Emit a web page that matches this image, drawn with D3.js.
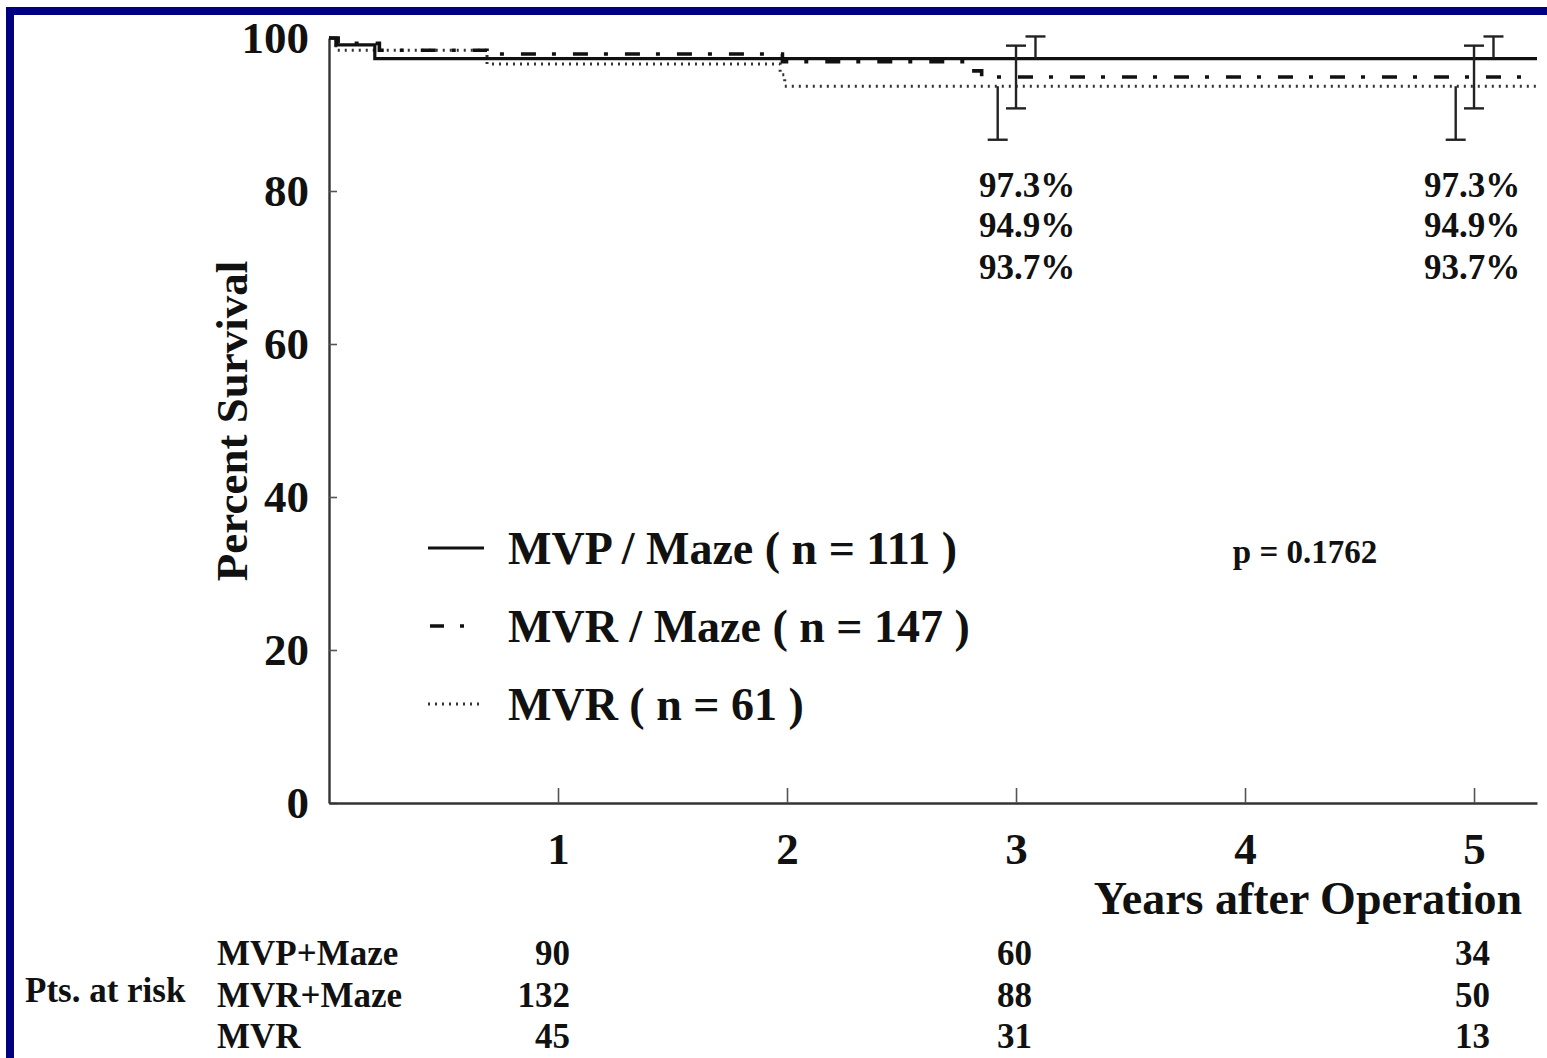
<!DOCTYPE html>
<html>
<head>
<meta charset="utf-8">
<script src="https://cdn.jsdelivr.net/npm/d3@7"></script>
<style>
  html, body { margin: 0; padding: 0; background: #fff; }
  svg { display: block; }
  text { font-family: 'Liberation Serif', 'Times New Roman', serif; font-weight: bold; fill: #111; }
</style>
</head>
<body>
<div id="chart"></div>
<script>
// survival curves (years, percent)
const mvpMazeT = [0, 0.03, 0.2, 5.275];
const mvpMazeS = [100, 99.1, 97.3, 97.3];
const mvrMazeT = [0, 0.04, 0.22, 0.69, 1.98, 2.78, 2.85, 5.275];
const mvrMazeS = [100, 99.3, 98.4, 97.9, 96.9, 95.7, 94.9, 94.9];
const mvrT = [0, 0.03, 0.69, 1.97, 1.99, 5.275];
const mvrS = [100, 98.4, 96.6, 95.2, 93.7, 93.7];

// confidence bars drawn at these years
const ciYears = [3, 5];
const mvpMazeCI = [97.3, 100.2];
const mvrMazeCI = [90.8, 99.0];
const mvrCI = [86.7, 93.7];

const groupNames = ['MVP / Maze ( n = 111 )', 'MVR / Maze ( n = 147 )', 'MVR ( n = 61 )'];
const percentLabels = ['97.3%', '94.9%', '93.7%'];
const pValue = 'p = 0.1762';

const xTicks = [1, 2, 3, 4, 5];
const yTicks = [0, 20, 40, 60, 80, 100];

const riskRows = ['MVP+Maze', 'MVR+Maze', 'MVR'];
const riskYears = [1, 3, 5];
const mvpMazeRisk = [90, 60, 34];
const mvrMazeRisk = [132, 88, 50];
const mvrRisk = [45, 31, 13];

const W = 1547, H = 1058;
const svg = d3.select('#chart').append('svg')
  .attr('width', W)
  .attr('height', H);

// navy frame (top + left only, as in the scan)
svg.append('rect').attr('x', 6).attr('y', 7).attr('width', W - 6).attr('height', 8).attr('fill', '#000080');
svg.append('rect').attr('x', 6).attr('y', 7).attr('width', 8).attr('height', H - 7).attr('fill', '#000080');

const x = d3.scaleLinear().domain([0, 5.275]).range([329, 1537]);
const y = d3.scaleLinear().domain([0, 100]).range([803, 38]);

const styles = [
  { stroke: '#111', width: 3.2, dash: null },
  { stroke: '#111', width: 3.6, dash: '15,16,4,17' },
  { stroke: '#333', width: 3, dash: '2,5' },
];

// axes
const yAxis = svg.append('g')
  .attr('transform', `translate(${x(0)},0)`)
  .call(d3.axisLeft(y).tickValues(yTicks).tickSize(-8).tickSizeOuter(0).tickPadding(20));
const xAxis = svg.append('g')
  .attr('transform', `translate(0,${y(0)})`)
  .call(d3.axisBottom(x).tickValues(xTicks).tickFormat(d3.format('d'))
    .tickSize(-15).tickSizeOuter(0).tickPadding(29));

[yAxis, xAxis].forEach(a => {
  a.select('.domain').attr('stroke', '#333').attr('stroke-width', 2.4);
  a.selectAll('.tick line').attr('stroke', '#555').attr('stroke-width', 1.6);
  a.selectAll('text').attr('font-size', 45).attr('fill', '#111')
    .attr('font-family', "'Liberation Serif', serif").attr('font-weight', 'bold');
});

svg.append('text')
  .attr('transform', `translate(247,421) rotate(-90)`)
  .attr('text-anchor', 'middle')
  .attr('font-size', 45)
  .text('Percent Survival');

svg.append('text')
  .attr('x', 1522).attr('y', 914)
  .attr('text-anchor', 'end')
  .attr('font-size', 46)
  .text('Years after Operation');

// curves
const curves = [
  d3.zip(mvpMazeT, mvpMazeS),
  d3.zip(mvrMazeT, mvrMazeS),
  d3.zip(mvrT, mvrS),
];
const line = d3.line()
  .x(d => x(d[0]))
  .y(d => y(d[1]))
  .curve(d3.curveStepAfter);

// draw dotted first so solid sits on top
[2, 1, 0].forEach(i => {
  svg.append('path')
    .datum(curves[i])
    .attr('d', line)
    .attr('fill', 'none')
    .attr('stroke', styles[i].stroke)
    .attr('stroke-width', styles[i].width)
    .attr('stroke-dasharray', styles[i].dash);
});

// confidence bars
const cis = [mvpMazeCI, mvrMazeCI, mvrCI];
const offsets = [0.085, 0, -0.08];
const estimates = [mvpMazeS, mvrMazeS, mvrS].map(s => s[s.length - 1]);
const capHalf = 10;
ciYears.forEach(yr => {
  cis.forEach((ci, i) => {
    const cx = x(yr + offsets[i]);
    // solid group: only upper whisker, dotted: only lower, dash-dot: both
    const lo = i === 0 ? estimates[i] : ci[0];
    const hi = i === 2 ? estimates[i] : ci[1];
    const g = svg.append('g').attr('stroke', '#222').attr('stroke-width', 2.4);
    g.append('line').attr('x1', cx).attr('x2', cx).attr('y1', y(lo)).attr('y2', y(hi));
    if (i !== 0) g.append('line').attr('x1', cx - capHalf).attr('x2', cx + capHalf).attr('y1', y(ci[0])).attr('y2', y(ci[0]));
    if (i !== 2) g.append('line').attr('x1', cx - capHalf).attr('x2', cx + capHalf).attr('y1', y(ci[1])).attr('y2', y(ci[1]));
  });
});

// percent labels under the bars
const labelY = [185, 225, 267];
ciYears.forEach((yr, k) => {
  percentLabels.forEach((t, i) => {
    svg.append('text')
      .attr('x', x(yr) + (k === 0 ? 11 : -2))
      .attr('y', labelY[i])
      .attr('dy', '0.35em')
      .attr('text-anchor', 'middle')
      .attr('font-size', 35)
      .text(t);
  });
});

// legend
const legendY = [548, 626, 704];
groupNames.forEach((name, i) => {
  svg.append('line')
    .attr('x1', i === 1 ? 430 : 428).attr('x2', i === 1 ? 472 : 484)
    .attr('y1', legendY[i]).attr('y2', legendY[i])
    .attr('stroke', styles[i].stroke)
    .attr('stroke-width', styles[i].width)
    .attr('stroke-dasharray', i === 1 ? '14,16,4,20' : styles[i].dash);
  svg.append('text')
    .attr('x', 508).attr('y', legendY[i])
    .attr('dy', '0.35em')
    .attr('font-size', 46)
    .text(name);
});

svg.append('text')
  .attr('x', 1305).attr('y', 551)
  .attr('dy', '0.35em')
  .attr('text-anchor', 'middle')
  .attr('font-size', 33)
  .text(pValue);

// patients at risk table
const rowY = [953, 995, 1036];
svg.append('text')
  .attr('x', 25).attr('y', 990)
  .attr('dy', '0.35em')
  .attr('font-size', 35)
  .text('Pts. at risk');
const riskData = [mvpMazeRisk, mvrMazeRisk, mvrRisk];
riskRows.forEach((r, i) => {
  svg.append('text')
    .attr('x', 217).attr('y', rowY[i])
    .attr('dy', '0.35em')
    .attr('font-size', 35)
    .text(r);
  riskData[i].forEach((n, j) => {
    svg.append('text')
      .attr('x', x(riskYears[j]) + (j === 0 ? 12 : 16))
      .attr('y', rowY[i])
      .attr('dy', '0.35em')
      .attr('text-anchor', 'end')
      .attr('font-size', 35)
      .text(n);
  });
});
</script>
</body>
</html>
